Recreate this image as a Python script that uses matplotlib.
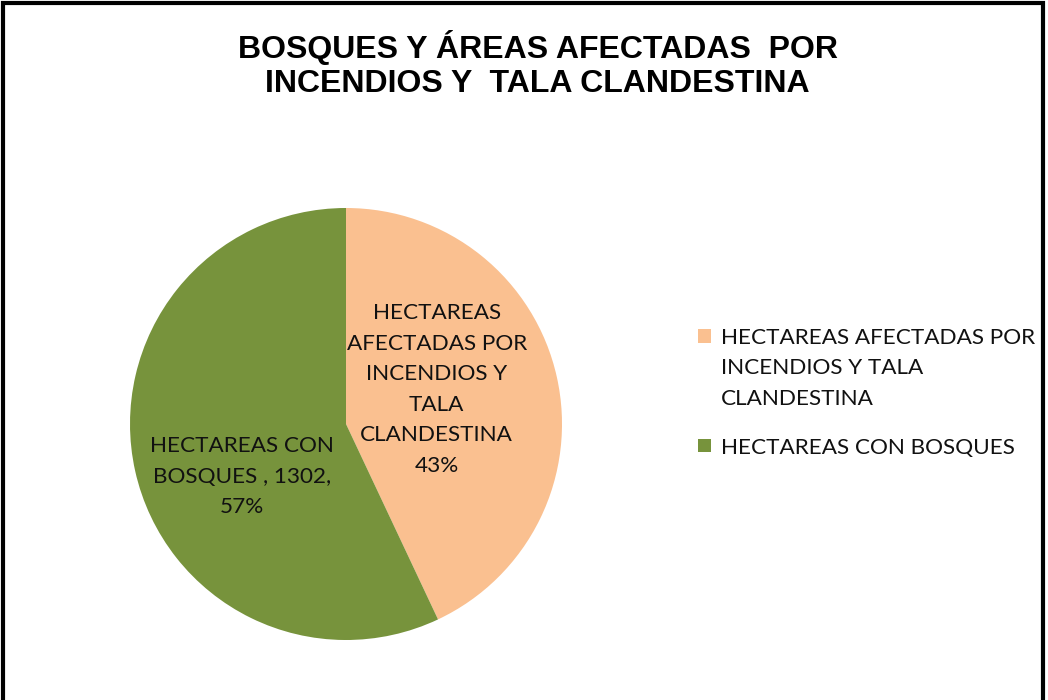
import matplotlib.pyplot as plt
from matplotlib.patches import Rectangle
from matplotlib.legend_handler import HandlerPatch

# Data
categories = ['HECTAREAS AFECTADAS POR\nINCENDIOS Y TALA\nCLANDESTINA', 'HECTAREAS CON BOSQUES']
values = [982, 1302]
colors = ['#FAC090', '#77933C']
slice_labels = ['HECTAREAS\nAFECTADAS POR\nINCENDIOS Y\nTALA\nCLANDESTINA\n{pct}',
                'HECTAREAS CON\nBOSQUES , {val},\n{pct}']
title = 'BOSQUES Y ÁREAS AFECTADAS  POR\nINCENDIOS Y  TALA CLANDESTINA'

label_font = 'Lato'
label_size = 16.2
line_gap = 1.66

fig = plt.figure(figsize=(10.48, 7.0), dpi=100)

# frame around the chart (bottom edge cut off in the original)
fig.patches.append(Rectangle((0.003, -0.05), 0.992, 1.046, transform=fig.transFigure,
                             fill=False, edgecolor='black', linewidth=3))

fig.text(0.513, 0.908, title, ha='center', va='center', fontsize=23,
         fontweight='bold', family='Liberation Sans', linespacing=1.16)

ax = fig.add_axes([130 / 1048, 60 / 700, 432 / 1048, 432 / 700])
wedges, _ = ax.pie(values, colors=colors, startangle=90, counterclock=False,
                   radius=1.0, wedgeprops=dict(linewidth=0))
ax.set_xlim(-1, 1)
ax.set_ylim(-1, 1)
ax.set_aspect('equal')
ax.axis('off')

total = sum(values)
label_pos = [(0.42, 0.16), (-0.48, -0.245)]
for i, (v, txt) in enumerate(zip(values, slice_labels)):
    pct = f'{round(v / total * 100)}%'
    ax.text(label_pos[i][0], label_pos[i][1], txt.format(pct=pct, val=v),
            ha='center', va='center', fontsize=label_size, family=label_font,
            linespacing=line_gap, color='#111111')

# legend markers sit beside the first line of each entry (Excel style)
n_lines = {w: c.count('\n') for w, c in zip(wedges, categories)}
line_pts = 32 / 100 * 72


def first_line_square(legend, orig_handle, xdescent, ydescent, width, height, fontsize):
    shift = n_lines[orig_handle] * line_pts / 2
    return Rectangle((-xdescent, -ydescent + shift), width, height)


leg = fig.legend(wedges, categories, loc='upper left', bbox_to_anchor=(0.6555, 0.548),
                 frameon=False, prop={'family': label_font, 'size': label_size},
                 handlelength=0.55, handleheight=0.55, handletextpad=0.45,
                 labelspacing=1.28, borderpad=0,
                 handler_map={w: HandlerPatch(patch_func=first_line_square) for w in wedges})
for t in leg.get_texts():
    t.set_linespacing(line_gap)
    t.set_color('#111111')

plt.savefig('out.png', dpi=100)
